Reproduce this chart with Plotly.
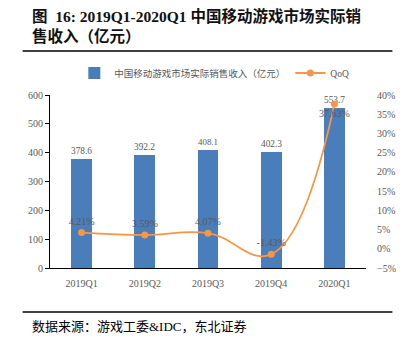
import plotly.graph_objects as go

quarters = ["2019Q1", "2019Q2", "2019Q3", "2019Q4", "2020Q1"]
revenue = [378.6, 392.2, 408.1, 402.3, 553.7]
qoq = [4.21, 3.59, 4.07, -1.43, 37.63]

BAR_COLOR = "#4A7EBB"
LINE_COLOR = "#F79646"
TEXT_GRAY = "#595959"
SERIF = "Liberation Serif, Times New Roman, serif"
MIXED = "Liberation Serif, Noto Sans CJK SC, serif"

W, H = 408, 342
ML, MR, MT, MB = 50, 35, 95, 74
PLOT_W = W - ML - MR
PLOT_H = H - MT - MB


def px_x(x):
    return (x - ML) / PLOT_W


def px_y(y):
    return (H - MB - y) / PLOT_H


fig = go.Figure()

fig.add_trace(go.Bar(
    x=quarters, y=revenue, name="中国移动游戏市场实际销售收入（亿元）",
    marker=dict(color=BAR_COLOR, line=dict(width=0)),
    width=0.33,
    text=[f"{v:.1f}" for v in revenue], textposition="outside",
    textfont=dict(family=SERIF, size=10, color=TEXT_GRAY),
    cliponaxis=False,
))

fig.add_trace(go.Scatter(
    x=quarters, y=qoq, name="QoQ", yaxis="y2",
    mode="lines+markers+text",
    line=dict(color=LINE_COLOR, width=1.8, shape="spline", smoothing=1.2),
    marker=dict(color=LINE_COLOR, size=7),
    text=[f"{v:.2f}%" for v in qoq],
    textposition=["top center"] * 4 + ["bottom center"],
    textfont=dict(family=SERIF, size=10, color=TEXT_GRAY),
    cliponaxis=False,
))

fig.update_layout(
    width=W, height=H,
    margin=dict(l=ML, r=MR, t=MT, b=MB),
    paper_bgcolor="white", plot_bgcolor="white",
    bargap=0,
    showlegend=True,
    legend=dict(
        orientation="h", x=0.52, xanchor="center", y=px_y(73), yanchor="middle",
        font=dict(family=MIXED, size=9.5, color=TEXT_GRAY),
        itemwidth=30, tracegroupgap=0,
    ),
    xaxis=dict(
        type="category", showline=True, linecolor="black", linewidth=1,
        ticks="", showgrid=False, ticklabelstandoff=6,
        tickfont=dict(family=SERIF, size=10, color=TEXT_GRAY),
    ),
    yaxis=dict(
        range=[0, 600], dtick=100, showline=True, linecolor="black", linewidth=1,
        ticks="outside", ticklen=4, tickcolor="black", showgrid=False, zeroline=False,
        tickfont=dict(family=SERIF, size=10, color=TEXT_GRAY),
    ),
    yaxis2=dict(
        range=[-5, 40], dtick=5, ticksuffix="%", overlaying="y", side="right",
        showline=False, showgrid=False, zeroline=False, ticks="",
        ticklabelstandoff=10,
        tickfont=dict(family=SERIF, size=10, color=TEXT_GRAY),
    ),
    annotations=[
        dict(text="<b>图</b>  <b>16: 2019Q1-2020Q1</b> <b>中国移动游戏市场实际销</b><br><b>售收入（亿元）</b>",
             xref="paper", yref="paper", x=px_x(30), y=px_y(5), xanchor="left", yanchor="top",
             align="left", showarrow=False,
             font=dict(family=MIXED, size=15.5, color="#111111")),
        dict(text="数据来源：游戏工委&IDC，东北证券",
             xref="paper", yref="paper", x=px_x(30), y=px_y(326), xanchor="left", yanchor="middle",
             align="left", showarrow=False,
             font=dict(family=MIXED, size=13, color="black")),
    ],
    shapes=[
        dict(type="line", xref="paper", yref="paper", x0=px_x(22), x1=px_x(400),
             y0=px_y(51), y1=px_y(51), line=dict(color="black", width=1.5)),
        dict(type="line", xref="paper", yref="paper", x0=px_x(22), x1=px_x(400),
             y0=px_y(312), y1=px_y(312), line=dict(color="black", width=1.5)),
    ],
)

fig.write_html("out.html")
